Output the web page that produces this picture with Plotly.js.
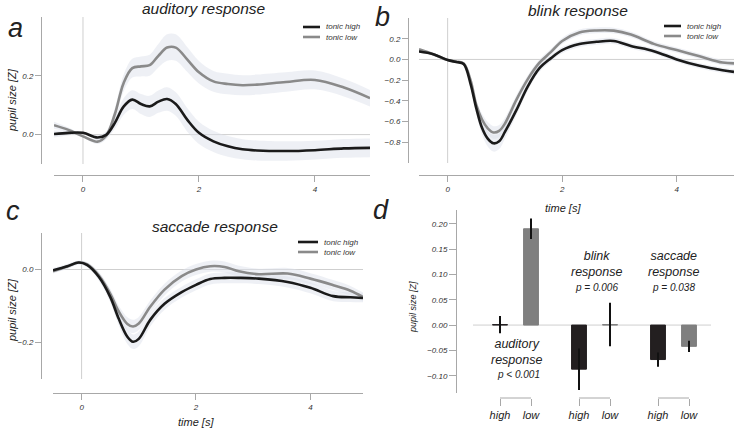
<!DOCTYPE html>
<html>
<head>
<meta charset="utf-8">
<script src="https://cdn.plot.ly/plotly-3.0.1.min.js"></script>
<style>
html,body{margin:0;padding:0;background:#fff}
#chart{width:736px;height:431px}
</style>
</head>
<body>
<div id="chart"></div>
<script>
// ================= DATA =================
// a: auditory response
const timeA = [-0.5,-0.25,0,0.25,0.4,0.55,0.7,0.85,1.0,1.15,1.3,1.45,1.6,1.8,2.0,2.25,2.5,2.75,3.0,3.5,4.0,4.5,4.95];
const audHigh = [0.002,0.006,0.006,-0.01,-0.001,0.04,0.095,0.119,0.104,0.096,0.112,0.121,0.104,0.05,0.006,-0.023,-0.04,-0.05,-0.054,-0.056,-0.053,-0.047,-0.045];
const audLow = [0.032,0.016,-0.006,-0.024,-0.004,0.07,0.175,0.226,0.232,0.236,0.268,0.296,0.296,0.255,0.212,0.181,0.172,0.168,0.17,0.179,0.186,0.16,0.124];
const audHighSem = [0.012,0.008,0.004,0.008,0.012,0.02,0.028,0.032,0.034,0.036,0.038,0.04,0.04,0.04,0.038,0.036,0.035,0.034,0.034,0.033,0.032,0.032,0.032];
const audLowSem = [0.012,0.008,0.004,0.008,0.012,0.02,0.028,0.032,0.034,0.036,0.04,0.045,0.045,0.042,0.038,0.035,0.035,0.034,0.034,0.033,0.032,0.03,0.028];

// b: blink response
const timeB = [-0.5,-0.25,0,0.15,0.28,0.4,0.5,0.6,0.7,0.8,0.9,1.0,1.2,1.4,1.6,1.8,2.0,2.3,2.6,2.9,3.2,3.6,4.0,4.4,4.8,5.0];
const blinkHigh = [0.076,0.05,-0.006,-0.025,-0.044,-0.235,-0.47,-0.66,-0.765,-0.81,-0.79,-0.70,-0.49,-0.26,-0.087,0.01,0.09,0.148,0.17,0.178,0.13,0.08,0.0,-0.062,-0.105,-0.12];
const blinkLow = [0.098,0.05,-0.006,-0.02,-0.038,-0.2,-0.44,-0.58,-0.665,-0.705,-0.69,-0.62,-0.39,-0.19,-0.034,0.07,0.178,0.26,0.28,0.278,0.24,0.15,0.09,0.03,-0.03,-0.038];
const blinkHighSem = [0.012,0.01,0.005,0.006,0.01,0.03,0.05,0.065,0.075,0.08,0.075,0.065,0.05,0.04,0.035,0.03,0.03,0.028,0.028,0.028,0.027,0.026,0.025,0.025,0.025,0.025];
const blinkLowSem = [0.012,0.01,0.005,0.006,0.01,0.028,0.045,0.055,0.06,0.06,0.058,0.055,0.045,0.038,0.032,0.03,0.03,0.028,0.028,0.028,0.027,0.026,0.025,0.025,0.025,0.025];

// c: saccade response
const timeC = [-0.5,-0.25,-0.05,0.1,0.3,0.5,0.65,0.8,0.9,1.0,1.2,1.45,1.75,2.0,2.25,2.5,2.75,3.1,3.6,4.0,4.4,4.7,4.92];
const saccHigh = [-0.002,0.009,0.019,0.012,-0.02,-0.075,-0.135,-0.184,-0.198,-0.19,-0.138,-0.094,-0.062,-0.042,-0.026,-0.023,-0.023,-0.025,-0.034,-0.05,-0.073,-0.076,-0.078];
const saccLow = [-0.005,0.008,0.019,0.014,-0.016,-0.066,-0.115,-0.149,-0.156,-0.148,-0.102,-0.055,-0.018,0.0,0.009,0.007,-0.005,-0.013,-0.011,-0.025,-0.043,-0.058,-0.075];
const saccHighSem = [0.006,0.006,0.005,0.006,0.01,0.014,0.018,0.02,0.02,0.02,0.018,0.016,0.015,0.015,0.015,0.015,0.015,0.015,0.015,0.015,0.014,0.013,0.012];
const saccLowSem = [0.006,0.006,0.005,0.006,0.01,0.013,0.016,0.018,0.018,0.018,0.017,0.016,0.015,0.015,0.015,0.015,0.015,0.015,0.015,0.015,0.014,0.013,0.012];

// d: bars
const groups = ["high","low"];
const barAud = [0.001, 0.19];
const barAudErr = [0.017, 0.02];
const barBlink = [-0.087, 0.001];
const barBlinkErr = [0.041, 0.043];
const barSacc = [-0.068, -0.042];
const barSaccErr = [0.014, 0.011];

// ================= STYLE =================
const FONT = "Liberation Sans, Arial, sans-serif";
const BLACK = "#1a1a1a";
const GRAY = "#8a8a8a";
const BAND = "rgba(222,226,236,0.5)";
const SPINE = "#a8a8a8";

const W = 736, H = 431;
function px(x){ return x / W; }
function py(y){ return 1 - y / H; }

let traces = [];

function band(t, m, s, xa, ya){
  let lo = m.map((v,i)=>v - s[i]);
  let hi = m.map((v,i)=>v + s[i]);
  traces.push({x:t, y:lo, xaxis:xa, yaxis:ya, mode:"lines", line:{width:0, shape:"spline"}, hoverinfo:"skip", showlegend:false});
  traces.push({x:t, y:hi, xaxis:xa, yaxis:ya, mode:"lines", line:{width:0, shape:"spline"}, fill:"tonexty", fillcolor:BAND, hoverinfo:"skip", showlegend:false});
}
function curve(t, m, color, xa, ya){
  traces.push({x:t, y:m, xaxis:xa, yaxis:ya, mode:"lines", line:{color:color, width:2.6, shape:"spline", smoothing:1}, showlegend:false});
}

band(timeA, audHigh, audHighSem, "x", "y");
band(timeA, audLow, audLowSem, "x", "y");
curve(timeA, audLow, GRAY, "x", "y");
curve(timeA, audHigh, BLACK, "x", "y");

band(timeB, blinkHigh, blinkHighSem, "x2", "y2");
band(timeB, blinkLow, blinkLowSem, "x2", "y2");
curve(timeB, blinkLow, GRAY, "x2", "y2");
curve(timeB, blinkHigh, BLACK, "x2", "y2");

band(timeC, saccHigh, saccHighSem, "x3", "y3");
band(timeC, saccLow, saccLowSem, "x3", "y3");
curve(timeC, saccLow, GRAY, "x3", "y3");
curve(timeC, saccHigh, BLACK, "x3", "y3");

// bars
[[barAud,barAudErr,"x4"],[barBlink,barBlinkErr,"x5"],[barSacc,barSaccErr,"x6"]].forEach(g=>{
  traces.push({
    type:"bar", x:groups, y:g[0], xaxis:g[2], yaxis:"y4", width:0.48,
    marker:{color:["#231f20","#7f7f7f"], line:{color:["#231f20","#7f7f7f"], width:1}},
    error_y:{type:"data", array:g[1], visible:true, color:"#111", thickness:2, width:0},
    showlegend:false
  });
});

// ================= AXES =================
const tickFont = {family:FONT, size:8, style:"italic", color:"#333"};
function xAx(domain, range, pos){
  return {domain:domain, range:range, anchor:"free", position:pos,
    showline:true, linecolor:SPINE, linewidth:1, ticks:"outside", ticklen:6, tickcolor:SPINE,
    showgrid:false, zeroline:false, tickfont:tickFont, tickvals:[0,2,4]};
}
function yAx(domain, range, pos, tv, fmt){
  return {domain:domain, range:range, anchor:"free", position:pos,
    showline:true, linecolor:SPINE, linewidth:1, ticks:"outside", ticklen:6, tickcolor:SPINE,
    showgrid:false, zeroline:false, tickfont:tickFont, tickvals:tv, tickformat:fmt};
}
function catAx(domain){
  return {domain:domain, type:"category", range:[-0.5,1.5], anchor:"free", position:py(398),
    showline:false, ticks:"outside", ticklen:7, tickcolor:SPINE, showgrid:false, zeroline:false,
    tickfont:{family:FONT, size:11, style:"italic", color:"#222"}};
}

let layout = {
  width:W, height:H, margin:{l:0,r:0,t:0,b:0},
  paper_bgcolor:"#fff", plot_bgcolor:"rgba(0,0,0,0)",
  showlegend:false, bargap:0,
  xaxis: xAx([px(54),px(370)], [-0.5,4.95], py(175)),
  yaxis: yAx([py(164),py(17)], [-0.1,0.4], px(41), [0,0.2], ".1f"),
  xaxis2: xAx([px(419),px(734)], [-0.5,5.0], py(175)),
  yaxis2: yAx([py(163),py(18)], [-1.0,0.4], px(408), [0.2,0,-0.2,-0.4,-0.6,-0.8], ".1f"),
  xaxis3: xAx([px(53),px(363)], [-0.5,4.92], py(393)),
  yaxis3: yAx([py(379),py(233)], [-0.3,0.1], px(41), [0,-0.2], ".1f"),
  xaxis4: catAx([px(484.5),px(546.5)]),
  xaxis5: catAx([px(563.5),px(625.5)]),
  xaxis6: catAx([px(642.5),px(704.5)]),
  yaxis4: yAx([py(393),py(210)], [-0.134,0.227], px(456), [0.2,0.15,0.1,0.05,0,-0.05,-0.1], ".2f"),
  shapes:[], annotations:[]
};
layout.yaxis4.ticklen = 7;

// zero lines
[["x","y"],["x2","y2"],["x3","y3"]].forEach(p=>{
  layout.shapes.push({type:"line", xref:p[0]+" domain", yref:p[1], x0:0, x1:1, y0:0, y1:0, line:{color:"#cfcfcf", width:1}, layer:"below"});
  layout.shapes.push({type:"line", xref:p[0], yref:p[1]+" domain", x0:0, x1:0, y0:0, y1:1, line:{color:"#cfcfcf", width:1}, layer:"below"});
});
layout.shapes.push({type:"line", xref:"paper", yref:"y4", x0:px(473), x1:px(711), y0:0, y1:0, line:{color:"#cfcfcf", width:1}, layer:"below"});
// brackets under bar groups
["x4","x5","x6"].forEach(a=>{
  layout.shapes.push({type:"line", xref:a, yref:"paper", x0:0, x1:1, y0:py(398), y1:py(398), line:{color:SPINE, width:1}});
});

function txt(x, y, s, size, extra){
  layout.annotations.push(Object.assign({xref:"paper", yref:"paper", x:px(x), y:py(y), text:s, showarrow:false,
    xanchor:"center", yanchor:"middle", font:{family:FONT, size:size, style:"italic", color:"#222"}}, extra||{}));
}

// legends
function legendAt(x0, x1, y1, y2){
  layout.shapes.push({type:"line", xref:"paper", yref:"paper", x0:px(x0), x1:px(x1), y0:py(y1), y1:py(y1), line:{color:BLACK, width:2.6}});
  layout.shapes.push({type:"line", xref:"paper", yref:"paper", x0:px(x0), x1:px(x1), y0:py(y2), y1:py(y2), line:{color:GRAY, width:2.6}});
  txt(x1+4, y1, "tonic high", 8, {xanchor:"left", font:{family:FONT, size:8, style:"italic", color:"#333"}});
  txt(x1+4, y2, "tonic low", 8, {xanchor:"left", font:{family:FONT, size:8, style:"italic", color:"#333"}});
}
legendAt(303, 320, 27, 37);
legendAt(664, 681, 26, 36);
legendAt(298, 318, 242, 252);

// titles, letters, axis labels
txt(204, 8, "auditory response", 15.5);
txt(578, 11, "blink response", 15.5);
txt(215, 226, "saccade response", 15.5);
txt(15, 28, "a", 27);
txt(382, 17, "b", 27);
txt(13, 211, "c", 27);
txt(381, 210, "d", 27);
txt(563, 208, "time [s]", 11);
txt(196, 422, "time [s]", 11);
txt(12, 100, "pupil size [Z]", 11, {textangle:-90});
txt(12, 310, "pupil size [Z]", 11, {textangle:-90});
txt(413, 307, "pupil size [Z]", 9, {textangle:-90});

// bar annotations
txt(596, 264, "blink<br>response", 12.5);
txt(596, 287, "p = 0.006", 10);
txt(673, 264, "saccade<br>response", 12.5);
txt(673, 287, "p = 0.038", 10);
txt(516, 352, "auditory<br>response", 12.5);
txt(518, 374, "p &lt; 0.001", 10);

Plotly.newPlot("chart", traces, layout, {staticPlot:true, displayModeBar:false});
</script>
</body>
</html>
